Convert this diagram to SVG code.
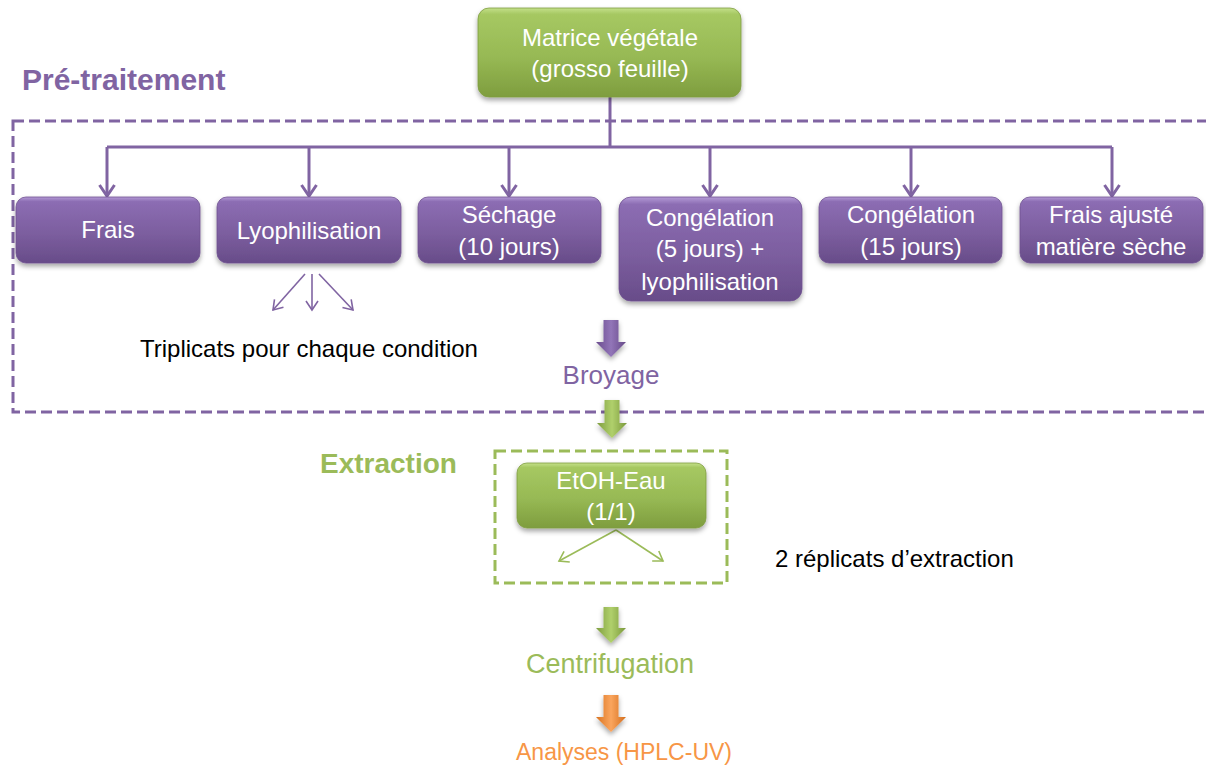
<svg xmlns="http://www.w3.org/2000/svg" width="1206" height="770" viewBox="0 0 1206 770">
  <style>
    .t { font-family: "Liberation Sans", Arial, sans-serif; }
    .w { fill: #ffffff; font-size: 24px; text-anchor: middle; }
    .blk { fill: #000000; font-size: 24px; }
    .conn { fill: none; stroke: #8064A2; stroke-width: 3; }
    .thinp { fill: none; stroke: #8064A2; stroke-width: 1.6; }
    .thing { fill: none; stroke: #9BBB59; stroke-width: 1.6; }
    .pbox { fill: url(#gPurple); stroke: #6E5190; stroke-width: 0.8; filter: url(#sh); }
    .gbox { fill: url(#gGreen); stroke: #7F9D40; stroke-width: 0.8; filter: url(#sh); }
  </style>
  <defs>
    <linearGradient id="gPurple" x1="0" y1="0" x2="0" y2="1">
      <stop offset="0" stop-color="#B49AD6"/>
      <stop offset="0.07" stop-color="#8C6DB3"/>
      <stop offset="0.55" stop-color="#7C5E9F"/>
      <stop offset="1" stop-color="#684C89"/>
    </linearGradient>
    <linearGradient id="gGreen" x1="0" y1="0" x2="0" y2="1">
      <stop offset="0" stop-color="#C4E08A"/>
      <stop offset="0.07" stop-color="#A6C862"/>
      <stop offset="0.55" stop-color="#97B954"/>
      <stop offset="1" stop-color="#7E9D3E"/>
    </linearGradient>
    <linearGradient id="aPurple" x1="0" y1="0" x2="1" y2="0">
      <stop offset="0" stop-color="#6A4C8E"/>
      <stop offset="0.5" stop-color="#9275B8"/>
      <stop offset="1" stop-color="#664A88"/>
    </linearGradient>
    <linearGradient id="aGreen" x1="0" y1="0" x2="1" y2="0">
      <stop offset="0" stop-color="#7E9D3E"/>
      <stop offset="0.5" stop-color="#B0D06C"/>
      <stop offset="1" stop-color="#7A983B"/>
    </linearGradient>
    <linearGradient id="aOrange" x1="0" y1="0" x2="1" y2="0">
      <stop offset="0" stop-color="#D9731F"/>
      <stop offset="0.5" stop-color="#FAA55E"/>
      <stop offset="1" stop-color="#D46E1C"/>
    </linearGradient>
    <filter id="sh" x="-10%" y="-20%" width="120%" height="150%">
      <feDropShadow dx="0" dy="3" stdDeviation="2.5" flood-color="#000000" flood-opacity="0.35"/>
    </filter>
    <marker id="mP" markerUnits="userSpaceOnUse" markerWidth="18" markerHeight="18" viewBox="0 0 18 18" refX="14" refY="9" orient="auto">
      <path d="M3,1.5 L14,9 L3,16.5" fill="none" stroke="#8064A2" stroke-width="3"/>
    </marker>
    <marker id="mPt" markerUnits="userSpaceOnUse" markerWidth="14" markerHeight="14" viewBox="0 0 14 14" refX="11" refY="7" orient="auto">
      <path d="M2,1 L11,7 L2,13" fill="none" stroke="#8064A2" stroke-width="1.6"/>
    </marker>
    <marker id="mGt" markerUnits="userSpaceOnUse" markerWidth="14" markerHeight="14" viewBox="0 0 14 14" refX="11" refY="7" orient="auto">
      <path d="M2,1 L11,7 L2,13" fill="none" stroke="#9BBB59" stroke-width="1.6"/>
    </marker>
  </defs>

  <rect width="1206" height="770" fill="#ffffff"/>

  <!-- Section frames and titles -->
  <g id="pretraitement-frame">
    <rect x="13" y="121" width="1210" height="291" fill="none" stroke="#8064A2" stroke-width="3" stroke-dasharray="11 5"/>
    <text class="t" x="22" y="90" font-size="30" font-weight="bold" fill="#8064A2">Pré-traitement</text>
  </g>
  <g id="extraction-frame">
    <rect x="495" y="451" width="232" height="132" fill="none" stroke="#9BBB59" stroke-width="3" stroke-dasharray="11 5"/>
    <text class="t" x="320" y="473" font-size="28" font-weight="bold" fill="#9BBB59">Extraction</text>
  </g>

  <!-- Connectors -->
  <g id="connectors">
    <path class="conn" d="M610,97 V147"/>
    <path class="conn" d="M107,147 H1112"/>
    <path class="conn" d="M107,147 V196" marker-end="url(#mP)"/>
    <path class="conn" d="M309,147 V196" marker-end="url(#mP)"/>
    <path class="conn" d="M509,147 V196" marker-end="url(#mP)"/>
    <path class="conn" d="M710,147 V196" marker-end="url(#mP)"/>
    <path class="conn" d="M911,147 V196" marker-end="url(#mP)"/>
    <path class="conn" d="M1112,147 V196" marker-end="url(#mP)"/>
    <path class="thinp" d="M305,274 L273,310" marker-end="url(#mPt)"/>
    <path class="thinp" d="M312,274 L312,310" marker-end="url(#mPt)"/>
    <path class="thinp" d="M319,274 L353,310" marker-end="url(#mPt)"/>
    <path class="thing" d="M616,530 L559,561" marker-end="url(#mGt)"/>
    <path class="thing" d="M616,530 L663,561" marker-end="url(#mGt)"/>
    <path d="M603.5,320 H618.5 V342 H626 L611,357 L596,342 H603.5 Z" fill="url(#aPurple)" filter="url(#sh)"/>
    <path d="M604.5,400 H619.5 V423 H627 L612,438 L597,423 H604.5 Z" fill="url(#aGreen)" filter="url(#sh)"/>
    <path d="M603.5,607 H618.5 V628 H626 L611,643 L596,628 H603.5 Z" fill="url(#aGreen)" filter="url(#sh)"/>
    <path d="M603.5,695 H618.5 V717 H626 L611,732 L596,717 H603.5 Z" fill="url(#aOrange)" filter="url(#sh)"/>
  </g>

  <!-- Nodes -->
  <g id="matrice">
    <rect class="gbox" x="478" y="8" width="263" height="89" rx="11"/>
    <text class="t w" x="610" y="46">Matrice végétale</text>
    <text class="t w" x="610" y="77">(grosso feuille)</text>
  </g>
  <g id="frais">
    <rect class="pbox" x="16" y="197" width="184" height="66" rx="10"/>
    <text class="t w" x="108" y="238">Frais</text>
  </g>
  <g id="lyophilisation">
    <rect class="pbox" x="217" y="197" width="184" height="66" rx="10"/>
    <text class="t w" x="309" y="239">Lyophilisation</text>
  </g>
  <g id="sechage">
    <rect class="pbox" x="418" y="197" width="183" height="66" rx="10"/>
    <text class="t w" x="509" y="223">Séchage</text>
    <text class="t w" x="509" y="255">(10 jours)</text>
  </g>
  <g id="congelation-lyo">
    <rect class="pbox" x="619" y="197" width="183" height="104" rx="12"/>
    <text class="t w" x="710" y="226">Congélation</text>
    <text class="t w" x="710" y="257">(5 jours) +</text>
    <text class="t w" x="710" y="290">lyophilisation</text>
  </g>
  <g id="congelation-15">
    <rect class="pbox" x="819" y="197" width="183" height="66" rx="10"/>
    <text class="t w" x="911" y="223">Congélation</text>
    <text class="t w" x="911" y="255">(15 jours)</text>
  </g>
  <g id="frais-ajuste">
    <rect class="pbox" x="1020" y="197" width="183" height="66" rx="10"/>
    <text class="t w" x="1111" y="223">Frais ajusté</text>
    <text class="t w" x="1111" y="255">matière sèche</text>
  </g>
  <g id="triplicats">
    <text class="t blk" x="140" y="357">Triplicats pour chaque condition</text>
  </g>
  <g id="broyage">
    <text class="t" x="611" y="384" font-size="26" fill="#8064A2" text-anchor="middle">Broyage</text>
  </g>
  <g id="etoh-eau">
    <rect class="gbox" x="517" y="463" width="189" height="65" rx="10"/>
    <text class="t w" x="611" y="489">EtOH-Eau</text>
    <text class="t w" x="611" y="520">(1/1)</text>
  </g>
  <g id="replicats">
    <text class="t blk" x="775" y="567">2 réplicats d’extraction</text>
  </g>
  <g id="centrifugation">
    <text class="t" x="610" y="673" font-size="27" fill="#9BBB59" text-anchor="middle">Centrifugation</text>
  </g>
  <g id="analyses">
    <text class="t" x="624" y="760" font-size="23" fill="#F79646" text-anchor="middle">Analyses (HPLC-UV)</text>
  </g>
</svg>
